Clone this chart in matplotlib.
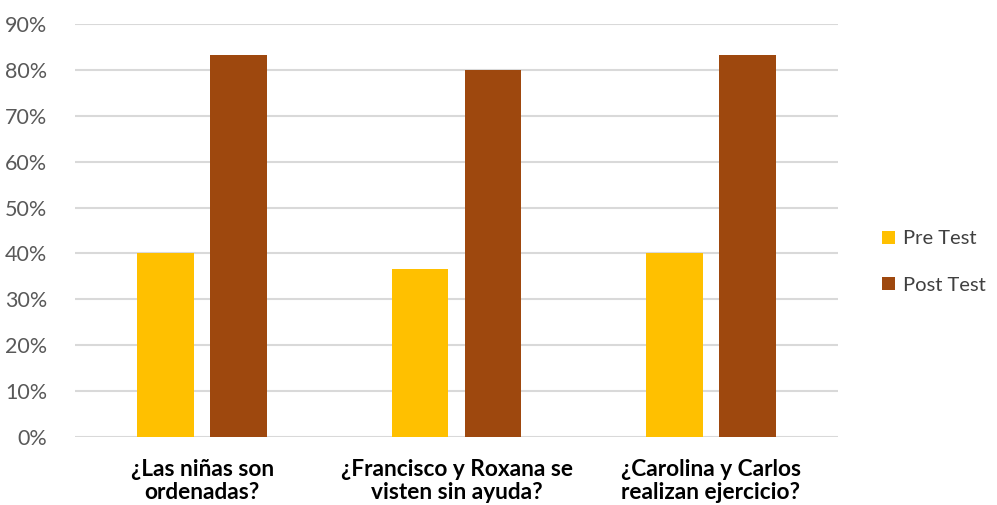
import matplotlib
matplotlib.use("Agg")
import matplotlib.pyplot as plt
import numpy as np
from matplotlib.ticker import PercentFormatter

categories = ["¿Las niñas son\nordenadas?",
              "¿Francisco y Roxana se\nvisten sin ayuda?",
              "¿Carolina y Carlos\nrealizan ejercicio?"]
pre_test = [40.0, 36.7, 40.0]
post_test = [83.3, 80.0, 83.3]
series_names = ["Pre Test", "Post Test"]
y_ticks = list(range(0, 100, 10))

plt.rcParams["font.family"] = ["Lato", "DejaVu Sans"]

fig = plt.figure(figsize=(9.97, 5.05), dpi=100)
ax = fig.add_axes([75 / 997, 1 - 437 / 505, (838 - 75) / 997, (437 - 24) / 505])

x = np.arange(len(categories))
w = 0.222
off = 0.1435
ax.bar(x - off, pre_test, width=w, color="#FFC000", label=series_names[0], zorder=3)
ax.bar(x + off, post_test, width=w, color="#9E480E", label=series_names[1], zorder=3)

ax.set_xlim(-0.5, len(categories) - 0.5)
ax.set_ylim(0, 90)
ax.set_yticks(y_ticks)
ax.yaxis.set_major_formatter(PercentFormatter(decimals=0))
ax.grid(axis="y", color="#D9D9D9", linewidth=1.5, zorder=0)
for s in ax.spines.values():
    s.set_visible(False)
ax.tick_params(axis="y", length=0, pad=20, labelsize=15.5, labelcolor="#595959")
ax.tick_params(axis="x", length=0, pad=16)
ax.set_xticks(x)
ax.set_xticklabels(categories, fontsize=16.3, fontweight="bold", color="#000000", linespacing=1.1)

leg = ax.legend(loc="center left", bbox_to_anchor=(864 / 997, 1 - 262 / 505), bbox_transform=fig.transFigure,
                frameon=False, fontsize=14.5, handlelength=0.65, handleheight=0.65,
                handletextpad=0.4, labelspacing=1.45)
for t in leg.get_texts():
    t.set_color("#404040")

fig.savefig("out.png", dpi=100)
